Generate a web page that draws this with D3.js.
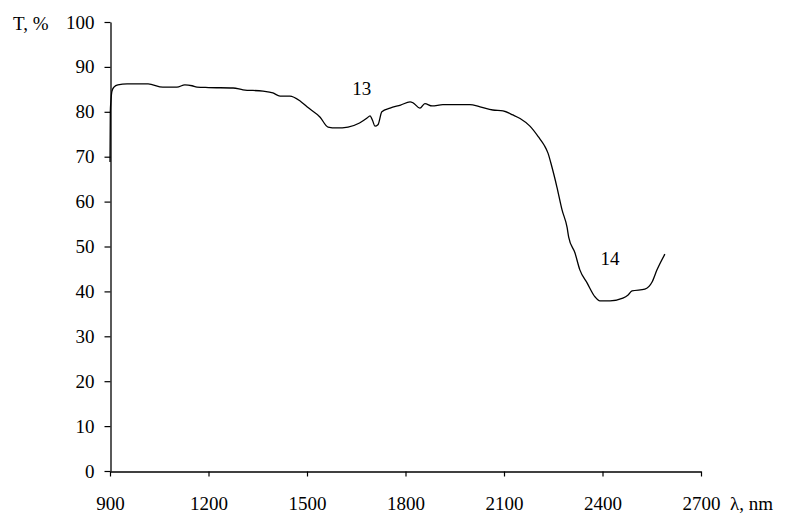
<!DOCTYPE html>
<html>
<head>
<meta charset="utf-8">
<script src="https://cdn.jsdelivr.net/npm/d3@7"></script>
<style>
  html, body { margin: 0; padding: 0; background: #fff; }
  svg text { font-family: "Liberation Serif", "DejaVu Serif", serif; fill: #000; }
</style>
</head>
<body>
<div id="chart"></div>
<script>
// spectrum T(λ)
const wavelength = [900, 901, 903, 906, 912, 924, 952, 1016, 1061, 1104, 1128, 1150, 1165, 1200, 1275, 1305,
  1366, 1396, 1418, 1448, 1479, 1500, 1540, 1564, 1590, 1625, 1660, 1683, 1692, 1700, 1707, 1716, 1728,
  1753, 1785, 1814, 1823, 1844, 1859, 1881, 1914, 1960, 1996, 2027, 2066, 2097, 2127, 2149, 2179, 2205,
  2222, 2234, 2246, 2261, 2277, 2292, 2297, 2316, 2331, 2353, 2377, 2392, 2423, 2462, 2478, 2490, 2529,
  2551, 2566, 2590];
const transmit = [68.8, 80.0, 82.6, 84.6, 85.5, 86.0, 86.2, 86.2, 85.5, 85.5, 86.0, 85.8, 85.5, 85.4, 85.3, 84.9,
  84.6, 84.2, 83.5, 83.5, 82.4, 81.1, 78.8, 76.6, 76.4, 76.6, 77.5, 78.6, 79.1, 78.0, 76.8, 77.1, 80.0,
  80.8, 81.5, 82.2, 82.0, 80.8, 81.8, 81.3, 81.6, 81.6, 81.6, 81.1, 80.4, 80.2, 79.3, 78.5, 76.8, 74.4,
  72.6, 70.8, 67.7, 63.3, 58.1, 54.3, 52.1, 48.6, 44.8, 41.9, 38.8, 37.9, 37.9, 38.5, 39.2, 40.1, 40.5,
  42.1, 44.8, 48.3];
const xTicks = [900, 1200, 1500, 1800, 2100, 2400, 2700];
const yTicks = [0, 10, 20, 30, 40, 50, 60, 70, 80, 90, 100];
const bandLabels = [{ text: "13", x: 1667, y: 83.7 }, { text: "14", x: 2423, y: 45.9 }];

const W = 786, H = 513;
const m = { t: 22, r: 85, b: 42, l: 110 };
const FS = 19;
const svg = d3.select("#chart").append("svg").attr("width", W).attr("height", H);

const x = d3.scaleLinear().domain([900, 2700]).range([m.l, W - m.r]);
const y = d3.scaleLinear().domain([0, 100]).range([H - m.b, m.t]);

// axes
const gx = svg.append("g").attr("transform", `translate(0,${H - m.b + 0.5})`)
  .call(d3.axisBottom(x).tickValues(xTicks).tickSize(5).tickSizeOuter(0).tickPadding(20).tickFormat(d3.format("d")));
const gy = svg.append("g").attr("transform", `translate(${m.l + 0.5},0)`)
  .call(d3.axisLeft(y).tickValues(yTicks).tickSize(6).tickSizeOuter(0).tickPadding(10));
[gx, gy].forEach(g => {
  g.select(".domain").attr("stroke", "#000").attr("stroke-width", 1.3);
  g.selectAll(".tick line").attr("stroke", "#000").attr("stroke-width", 1.2);
  g.selectAll(".tick text").attr("font-size", FS).attr("font-family", "Liberation Serif");
});

// axis titles
svg.append("text").attr("x", 13).attr("y", 30).attr("font-size", FS).text("T, %");
svg.append("text").attr("x", 730).attr("y", 510).attr("font-size", FS).text("λ, nm");

// curve
const pts = wavelength.map((w, i) => [w, transmit[i]]);
svg.append("path").datum(pts)
  .attr("fill", "none").attr("stroke", "#000").attr("stroke-width", 1.3)
  .attr("d", d3.line().curve(d3.curveMonotoneX).x(d => x(d[0])).y(d => y(d[1])));

// band numbers
svg.selectAll(".band").data(bandLabels).join("text").attr("class", "band")
  .attr("x", d => x(d.x)).attr("y", d => y(d.y))
  .attr("text-anchor", "middle").attr("font-size", FS).text(d => d.text);
</script>
</body>
</html>
